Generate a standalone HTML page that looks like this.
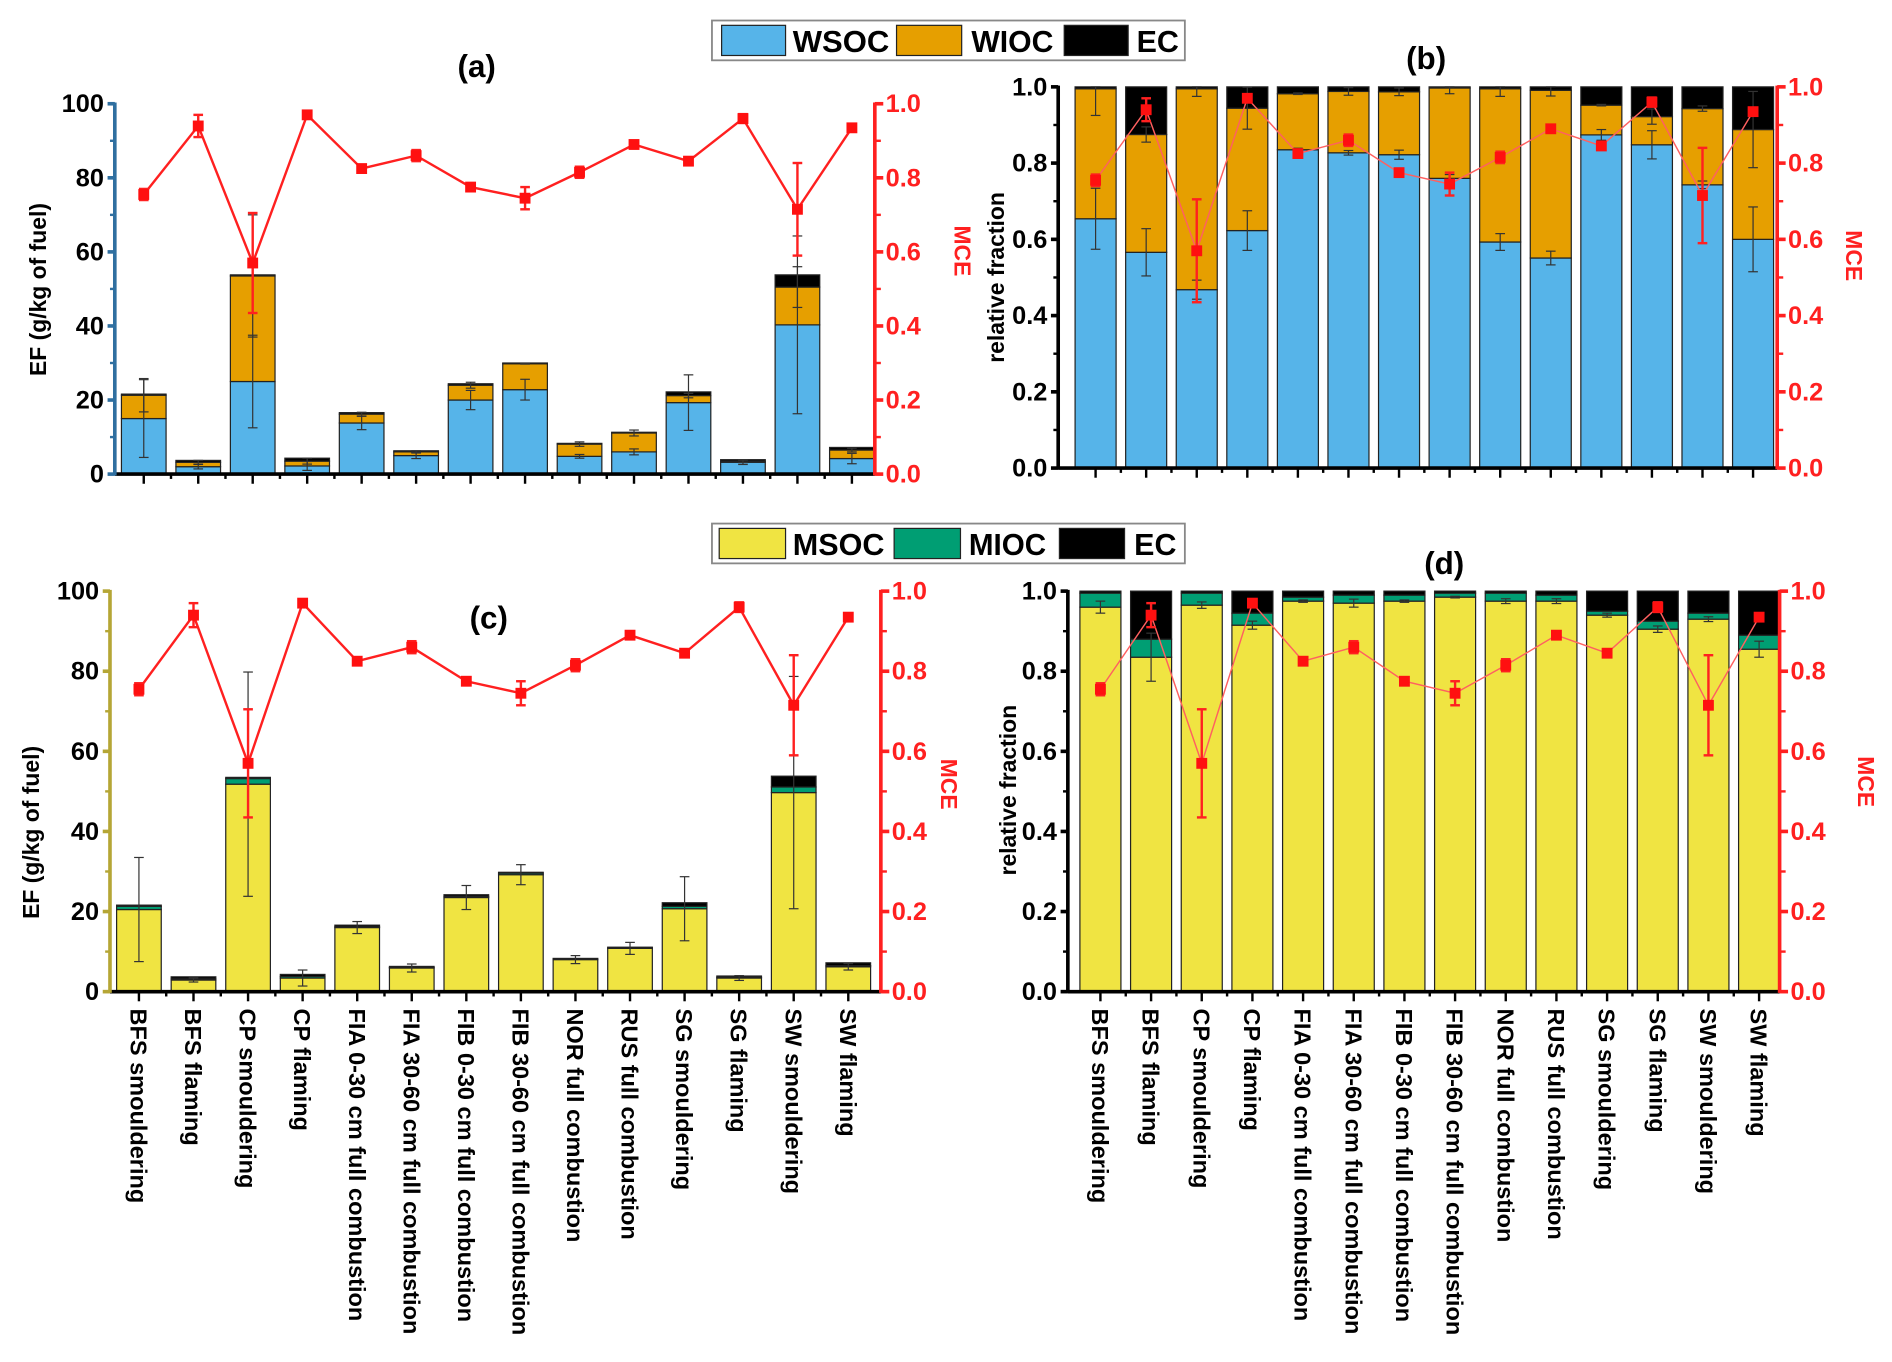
<!DOCTYPE html>
<html><head><meta charset="utf-8"><style>
html,body{margin:0;padding:0;background:#fff;}
svg{display:block;font-family:"Liberation Sans Narrow","Liberation Sans",sans-serif;}
.tk{font-weight:bold;font-size:21px;}
.cat{font-family:"Liberation Sans",sans-serif;font-weight:bold;font-size:19.5px;}
.ttl{font-family:"Liberation Sans",sans-serif;font-weight:bold;font-size:19px;}
</style></head><body>
<svg id="fig" width="1892" height="1362" viewBox="0 0 1568 1129"></svg>
<script>
const categories=["BFS smouldering","BFS flaming","CP smouldering","CP flaming","FIA 0-30 cm full combustion","FIA 30-60 cm full combustion","FIB 0-30 cm full combustion","FIB 30-60 cm full combustion","NOR full combustion","RUS full combustion","SG smouldering","SG flaming","SW smouldering","SW flaming"];
const mce=[0.755,0.94,0.57,0.97,0.825,0.86,0.775,0.745,0.815,0.89,0.845,0.96,0.715,0.935];
const mceErr=[0.015,0.03,0.135,0.006,0.01,0.015,0.006,0.03,0.015,0.006,0.008,0.012,0.125,0.007];
const wsoc=[15,2,25,2.2,13.8,5,20,22.8,4.8,6,19.3,3.2,40.3,4.2];
const wioc=[6.3,1.2,28.5,1.3,2.4,1,4,7,3.3,5.1,1.9,0.3,10.2,2.3];
const ecA=[0.3,0.5,0.3,0.8,0.4,0.3,0.4,0.2,0.2,0.2,1,0.4,3.3,0.7];
const wsocErr=[10.5,0.6,12.5,1.2,1.8,0.8,2.6,2.8,0.5,0.8,7.5,0.6,24,1.4];
const wiocErr=[4.5,0.5,16.5,0.8,0.5,0.3,0.8,0.1,0.6,0.8,0.6,0.4,5.5,0.5];
const fWsoc=[0.654,0.566,0.468,0.623,0.835,0.827,0.822,0.76,0.593,0.551,0.874,0.848,0.743,0.6];
const fWioc=[0.341,0.309,0.527,0.321,0.147,0.161,0.165,0.237,0.402,0.44,0.078,0.074,0.2,0.288];
const fWsocErr=[0.08,0.062,0.025,0.052,0.004,0.006,0.012,0.01,0.022,0.018,0.014,0.037,0.01,0.085];
const fWiocErr=[0.07,0.02,0.02,0.055,0.002,0.01,0.01,0.015,0.02,0.015,0.002,0.02,0.007,0.1];
const msoc=[20.5,2.9,51.8,3.4,16,5.9,23.5,29.2,8,10.8,20.7,3.4,49.7,6.2];
const mioc=[0.8,0.3,1.4,0.4,0.2,0.1,0.3,0.4,0.1,0.1,0.6,0.2,1.4,0.3];
const ecC=[0.3,0.5,0.3,0.5,0.4,0.3,0.4,0.2,0.2,0.2,0.9,0.3,2.7,0.7];
const msocErr=[13,0.5,28,2,1.5,1,3,2.5,1,1.5,8,0.6,29,0.8];
const fMsoc=[0.96,0.835,0.965,0.915,0.975,0.97,0.975,0.985,0.975,0.975,0.94,0.905,0.93,0.855];
const fMioc=[0.035,0.045,0.03,0.03,0.01,0.02,0.015,0.01,0.02,0.015,0.01,0.02,0.015,0.035];
const fMsocErr=[0.015,0.06,0.008,0.01,0.003,0.01,0.003,0.002,0.006,0.006,0.005,0.008,0.006,0.02];
const yTicksAbs=[0,20,40,60,80,100];
const yTicksFrac=[0,0.2,0.4,0.6,0.8,1.0];

const NS="http://www.w3.org/2000/svg";
const svg=document.getElementById('fig');
function mk(tag,attrs,parent,text){const e=document.createElementNS(NS,tag);for(const k in attrs)e.setAttribute(k,attrs[k]);if(text!==undefined)e.textContent=text;(parent||svg).appendChild(e);return e;}

function errbar(g,x,yc,yl,yh,col,w,cap){
  mk('line',{x1:x,x2:x,y1:yl,y2:yh,stroke:col,'stroke-width':w},g);
  mk('line',{x1:x-cap,x2:x+cap,y1:yl,y2:yl,stroke:col,'stroke-width':w},g);
  mk('line',{x1:x-cap,x2:x+cap,y1:yh,y2:yh,stroke:col,'stroke-width':w},g);
}

function panel(c){
  const g=mk('g',{});
  
  
  const Y=v=>c.y0-(v/c.ymax)*(c.y0-c.y1);
  const M=v=>c.y0-v*(c.y0-c.y1);
  const X=i=>c.xf+i*(c.xl-c.xf)/(categories.length-1);
  categories.forEach((cat,i)=>{
    let base=0;
    c.series.forEach((s,k)=>{
      const v=s.data[i];
      const r=mk('rect',{x:X(i)-c.bw/2,y:Y(base+v),width:c.bw,height:Math.max(0,Y(base)-Y(base+v)),fill:s.color,stroke:'#222','stroke-width':1},g);
      
      
      base+=v;
    });
    let b2=0;
    c.series.forEach((s,k)=>{
      const v=s.data[i];b2+=v;
      if(s.err){const e=s.err[i];errbar(g,X(i),Y(b2),Y(Math.max(0,b2-e)),Y(Math.min(c.ymax,b2+e)),'#333',1,4);}
    });
  });
  mk('line',{x1:c.xa,x2:c.xb,y1:c.y0,y2:c.y0,stroke:'#000','stroke-width':3},g);
  const la=mk('line',{x1:c.xa,x2:c.xa,y1:c.y0+1,y2:c.y1-1,stroke:c.lcol,'stroke-width':3},g);
  
  const ra=mk('line',{x1:c.xb,x2:c.xb,y1:c.y0+1,y2:c.y1-1,stroke:'#ff2020','stroke-width':3},g);
  
  c.ticks.forEach((t,j)=>{
    const y=Y(t);
    mk('line',{x1:c.xa-6,x2:c.xa,y1:y,y2:y,stroke:c.lcol,'stroke-width':3},g);
    if(j<c.ticks.length-1){const ym=Y((t+c.ticks[j+1])/2);mk('line',{x1:c.xa-4,x2:c.xa,y1:ym,y2:ym,stroke:c.lcol,'stroke-width':2},g);}
    const tl=mk('text',{x:c.xa-9,y:y+7,'text-anchor':'end',class:'tk'},g,c.fmt(t));
    
  });
  yTicksFrac.forEach((t,j)=>{
    const y=M(t);
    mk('line',{x1:c.xb,x2:c.xb+7,y1:y,y2:y,stroke:'#ff2020','stroke-width':3},g);
    if(j<yTicksFrac.length-1){const ym=M(t+0.1);mk('line',{x1:c.xb,x2:c.xb+5,y1:ym,y2:ym,stroke:'#ff2020','stroke-width':2},g);}
    const tl=mk('text',{x:c.xb+9,y:y+7,'text-anchor':'start',class:'tk',fill:'#ff2020'},g,t.toFixed(1));
    
  });
  categories.forEach((cat,i)=>{
    mk('line',{x1:X(i),x2:X(i),y1:c.y0,y2:c.y0+8,stroke:'#000','stroke-width':2},g);
    if(i<categories.length-1){const xm=(X(i)+X(i+1))/2;mk('line',{x1:xm,x2:xm,y1:c.y0,y2:c.y0+4,stroke:'#000','stroke-width':2},g);}
    if(c.cats){const t=mk('text',{x:0,y:0,class:'cat',transform:`translate(${X(i)-7},${c.y0+14}) rotate(90)`},g,cat);
      }
  });
  const pts=mce.map((v,i)=>X(i)+','+M(v)).join(' ');
  const pl=mk('polyline',{points:pts,fill:'none',stroke:c.frac?'#ff6060':'#ff2020','stroke-width':c.frac?1.2:2},g);
  
  mce.forEach((v,i)=>{
    errbar(g,X(i),M(v),M(v-mceErr[i]),M(v+mceErr[i]),'#ff2020',2,4);
    const p=mk('rect',{x:X(i)-4.5,y:M(v)-4.5,width:9,height:9,fill:'#ff1010'},g);
    
  });
  const tt=mk('text',{x:c.tx,y:c.ty,'text-anchor':'middle','font-family':'Liberation Sans Narrow, Liberation Sans, sans-serif','font-weight':'bold','font-size':26},g,c.title);
  
  const yl=mk('text',{x:0,y:0,class:'ttl','text-anchor':'middle',transform:`translate(${c.ylx},${c.yly}) rotate(-90)`},g,c.ylabel);
  
  const ml=mk('text',{x:0,y:0,class:'ttl','text-anchor':'middle',fill:'#ff2020','font-size':18,transform:`translate(${c.mx},${c.my}) rotate(90)`},g,'MCE');
  
}

panel({name:'panel-a',xa:95,xb:725,y0:393,y1:86,ymax:100,xf:119,xl:706,bw:37,lcol:'#2f6fa0',ticks:yTicksAbs,fmt:t=>String(t),
  series:[{key:'wsoc',data:wsoc,color:'#56b4e9',err:wsocErr},{key:'wioc',data:wioc,color:'#e69f00',err:wiocErr},{key:'ec',data:ecA,color:'#000'}],
  title:'(a)',tx:395,ty:64,ylabel:'EF (g/kg of fuel)',ylx:38,yly:240,mx:791,my:208});
panel({name:'panel-b',xa:877,xb:1473,y0:388,y1:72,ymax:1,frac:true,xf:908,xl:1453,bw:34,lcol:'#000',ticks:yTicksFrac,fmt:t=>t.toFixed(1),
  series:[{key:'wsoc',data:fWsoc,color:'#56b4e9',err:fWsocErr},{key:'wioc',data:fWioc,color:'#e69f00',err:fWiocErr},{key:'ec',data:fWsoc.map((v,i)=>Math.max(0,1-v-fWioc[i])),color:'#000'}],
  title:'(b)',tx:1182,ty:57,ylabel:'relative fraction',ylx:832,yly:230,mx:1530,my:212});
panel({name:'panel-c',xa:91,xb:730,y0:822,y1:490,ymax:100,xf:115,xl:703,bw:37,lcol:'#b5a635',ticks:yTicksAbs,fmt:t=>String(t),cats:true,
  series:[{key:'msoc',data:msoc,color:'#f0e442',err:msocErr},{key:'mioc',data:mioc,color:'#009e73'},{key:'ec',data:ecC,color:'#000'}],
  title:'(c)',tx:405,ty:521,ylabel:'EF (g/kg of fuel)',ylx:32,yly:690,mx:780,my:650});
panel({name:'panel-d',xa:885,xb:1475,y0:822,y1:490,ymax:1,frac:true,xf:912,xl:1458,bw:34,lcol:'#000',ticks:yTicksFrac,fmt:t=>t.toFixed(1),cats:true,
  series:[{key:'msoc',data:fMsoc,color:'#f0e442',err:fMsocErr},{key:'mioc',data:fMioc,color:'#009e73'},{key:'ec',data:fMsoc.map((v,i)=>Math.max(0,1-v-fMioc[i])),color:'#000'}],
  title:'(d)',tx:1197,ty:476,ylabel:'relative fraction',ylx:842,yly:655,mx:1540,my:648});

function legend(name,y,items){
  const g=mk('g',{});
  
  
  mk('rect',{x:590,y:y,width:392,height:33,fill:'#fff',stroke:'#888','stroke-width':1.5},g);
  items.forEach(it=>{
    const r=mk('rect',{x:it.sx,y:y+4,width:it.sw,height:25,fill:it.c,stroke:'#222','stroke-width':1},g);
    
    const t=mk('text',{x:it.tx,y:y+26,'font-weight':'bold','font-size':25,textLength:it.tw,lengthAdjust:'spacingAndGlyphs'},g,it.t);
    
  });
}
legend('legend-top',17,[{sx:598,sw:53,c:'#56b4e9',t:'WSOC',tx:657,tw:80},{sx:743,sw:54,c:'#e69f00',t:'WIOC',tx:805,tw:68},{sx:882,sw:53,c:'#000',t:'EC',tx:942,tw:35}]);
legend('legend-bottom',434,[{sx:596,sw:55,c:'#f0e442',t:'MSOC',tx:657,tw:76},{sx:741,sw:55,c:'#009e73',t:'MIOC',tx:803,tw:64},{sx:878,sw:54,c:'#000',t:'EC',tx:940,tw:35}]);
</script>
</body></html>
